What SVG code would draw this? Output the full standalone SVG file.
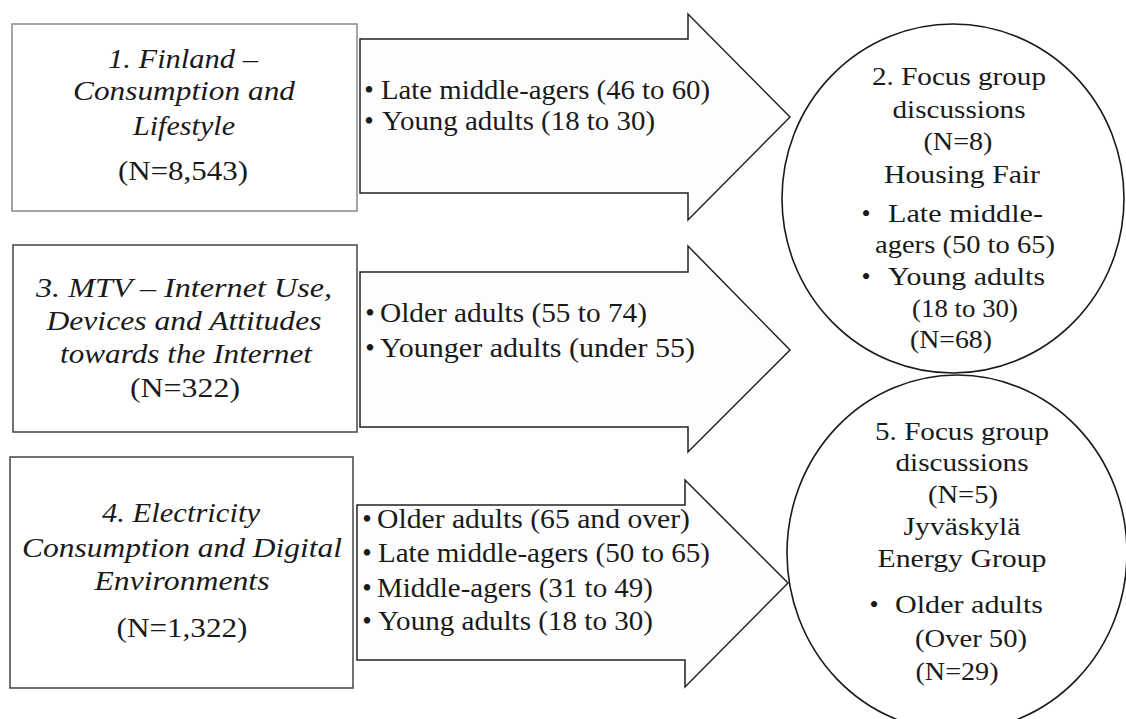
<svg xmlns="http://www.w3.org/2000/svg" width="1126" height="719" viewBox="0 0 1126 719">
<style>
  text { font-family: "Liberation Serif", "Times New Roman", serif; font-size: 27px; fill: #1a1a1a; }
  .it { font-style: italic; }
  .c { text-anchor: middle; }
  .cs { font-size: 26px; }
  .box { fill: #ffffff; stroke: #444; stroke-width: 1.5; }
  .box1 { stroke: #888; }
  .arrow { fill: #fdfdfd; stroke: #222; stroke-width: 1.5; stroke-linejoin: miter; }
  .circ { fill: #ffffff; stroke: #1a1a1a; stroke-width: 1.6; }
</style>
<rect width="1126" height="719" fill="#ffffff"/>

<g id="connectors">
  <g id="arrow1">
    <path class="arrow" d="M360,39 L688,39 L688,14 L790,117 L688,220 L688,193 L360,193 Z"/>
    <text x="369" y="99" class="c">•</text>
    <text x="381" y="99" textLength="329" lengthAdjust="spacingAndGlyphs">Late middle-agers (46 to 60)</text>
    <text x="369" y="130" class="c">•</text>
    <text x="382" y="130" textLength="273" lengthAdjust="spacingAndGlyphs">Young adults (18 to 30)</text>
  </g>
  <g id="arrow2">
    <path class="arrow" d="M360,272 L688,272 L688,246 L790,350 L688,452 L688,427 L360,427 Z"/>
    <text x="370" y="322" class="c">•</text>
    <text x="380" y="322" textLength="267" lengthAdjust="spacingAndGlyphs">Older adults (55 to 74)</text>
    <text x="370" y="357" class="c">•</text>
    <text x="380" y="357" textLength="315" lengthAdjust="spacingAndGlyphs">Younger adults (under 55)</text>
  </g>
  <g id="arrow3">
    <path class="arrow" d="M357,505 L685,505 L685,480 L788,583 L685,687 L685,660 L357,660 Z"/>
    <text x="367" y="528" class="c">•</text>
    <text x="377" y="528" textLength="313" lengthAdjust="spacingAndGlyphs">Older adults (65 and over)</text>
    <text x="367" y="562" class="c">•</text>
    <text x="378" y="562" textLength="332" lengthAdjust="spacingAndGlyphs">Late middle-agers (50 to 65)</text>
    <text x="367" y="597" class="c">•</text>
    <text x="377" y="597" textLength="276" lengthAdjust="spacingAndGlyphs">Middle-agers (31 to 49)</text>
    <text x="367" y="630" class="c">•</text>
    <text x="378" y="630" textLength="275" lengthAdjust="spacingAndGlyphs">Young adults (18 to 30)</text>
  </g>
</g>

<g id="node1">
  <rect class="box box1" x="12" y="24" width="345" height="187"/>
  <text class="it c" x="183" y="68" textLength="150" lengthAdjust="spacingAndGlyphs">1. Finland –</text>
  <text class="it c" x="184" y="100" textLength="222" lengthAdjust="spacingAndGlyphs">Consumption and</text>
  <text class="it c" x="184" y="135" textLength="102" lengthAdjust="spacingAndGlyphs">Lifestyle</text>
  <text class="c" x="183" y="180" textLength="130" lengthAdjust="spacingAndGlyphs">(N=8,543)</text>
</g>

<g id="node3">
  <rect class="box" x="13" y="245" width="344" height="187"/>
  <text class="it c" x="184" y="297" textLength="296" lengthAdjust="spacingAndGlyphs">3. MTV – Internet Use,</text>
  <text class="it c" x="184" y="330" textLength="275" lengthAdjust="spacingAndGlyphs">Devices and Attitudes</text>
  <text class="it c" x="186" y="363" textLength="252" lengthAdjust="spacingAndGlyphs">towards the Internet</text>
  <text class="c" x="185" y="397" textLength="110" lengthAdjust="spacingAndGlyphs">(N=322)</text>
</g>

<g id="node4">
  <rect class="box" x="10" y="457" width="343" height="231"/>
  <text class="it c" x="181" y="522" textLength="158" lengthAdjust="spacingAndGlyphs">4. Electricity</text>
  <text class="it c" x="182" y="557" textLength="320" lengthAdjust="spacingAndGlyphs">Consumption and Digital</text>
  <text class="it c" x="182" y="590" textLength="175" lengthAdjust="spacingAndGlyphs">Environments</text>
  <text class="c" x="182" y="637" textLength="131" lengthAdjust="spacingAndGlyphs">(N=1,322)</text>
</g>

<g id="node2">
  <ellipse class="circ" cx="953" cy="198.5" rx="171" ry="174.5"/>
  <text class="c cs" x="959" y="85" textLength="174" lengthAdjust="spacingAndGlyphs">2. Focus group</text>
  <text class="c cs" x="959" y="118" textLength="133" lengthAdjust="spacingAndGlyphs">discussions</text>
  <text class="c cs" x="958" y="150" textLength="69" lengthAdjust="spacingAndGlyphs">(N=8)</text>
  <text class="c cs" x="962" y="183" textLength="156" lengthAdjust="spacingAndGlyphs">Housing Fair</text>
  <text class="c cs" x="866" y="222">•</text>
  <text class="cs" x="888" y="222" textLength="155" lengthAdjust="spacingAndGlyphs">Late middle-</text>
  <text class="c cs" x="965" y="253" textLength="180" lengthAdjust="spacingAndGlyphs">agers (50 to 65)</text>
  <text class="c cs" x="866" y="285">•</text>
  <text class="cs" x="888" y="285" textLength="157" lengthAdjust="spacingAndGlyphs">Young adults</text>
  <text class="c cs" x="965" y="317" textLength="106" lengthAdjust="spacingAndGlyphs">(18 to 30)</text>
  <text class="c cs" x="951" y="348" textLength="82" lengthAdjust="spacingAndGlyphs">(N=68)</text>
</g>

<g id="node5">
  <ellipse class="circ" cx="957" cy="553" rx="170" ry="178"/>
  <text class="c cs" x="962" y="440" textLength="174" lengthAdjust="spacingAndGlyphs">5. Focus group</text>
  <text class="c cs" x="962" y="471" textLength="133" lengthAdjust="spacingAndGlyphs">discussions</text>
  <text class="c cs" x="963" y="503" textLength="70" lengthAdjust="spacingAndGlyphs">(N=5)</text>
  <text class="c cs" x="962" y="535" textLength="117" lengthAdjust="spacingAndGlyphs">Jyväskylä</text>
  <text class="c cs" x="962" y="567" textLength="169" lengthAdjust="spacingAndGlyphs">Energy Group</text>
  <text class="c cs" x="874" y="613">•</text>
  <text class="cs" x="895" y="613" textLength="148" lengthAdjust="spacingAndGlyphs">Older adults</text>
  <text class="c cs" x="971" y="647" textLength="112" lengthAdjust="spacingAndGlyphs">(Over 50)</text>
  <text class="c cs" x="957" y="680" textLength="83" lengthAdjust="spacingAndGlyphs">(N=29)</text>
</g>
</svg>
